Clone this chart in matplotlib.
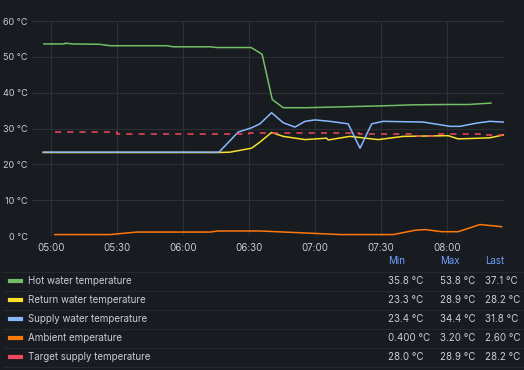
import matplotlib.pyplot as plt
from matplotlib.lines import Line2D

plt.rcParams['font.family'] = ['Inter', 'DejaVu Sans']

# minutes after 05:00
hot_t = [-3.2, 6, 6.5, 10, 22, 27, 52.6, 55.6, 72.3, 75.3, 91, 96, 100.6, 105.6,
         116, 136, 149.5, 164.5, 180, 190, 200]
hot_v = [53.6, 53.6, 53.8, 53.6, 53.5, 53.1, 53.1, 52.8, 52.8, 52.6, 52.6, 50.7, 38.1, 35.8,
         35.8, 36.1, 36.3, 36.6, 36.7, 36.7, 37.1]

ret_t = [-3.5, 36.7, 76.4, 81.4, 91.2, 95, 100.3, 105.6, 115.5, 125.3, 126, 135.9,
         148.8, 160.1, 180.6, 185.1, 195, 199.5, 205.6]
ret_v = [23.3, 23.3, 23.3, 23.4, 24.5, 26.2, 28.9, 27.8, 26.9, 27.3, 26.8, 27.8,
         26.9, 27.8, 28.0, 27.1, 27.3, 27.4, 28.2]

sup_t = [-3.5, 36.7, 76.4, 81.4, 85.1, 91.2, 95, 100.3, 105.6, 110.9, 115.5, 120,
         126.8, 135.1, 140.5, 145.8, 151, 169.2, 181.4, 185.9, 193.5, 199.5, 205.6]
sup_v = [23.4, 23.4, 23.4, 26.6, 29.0, 30.2, 31.3, 34.4, 31.6, 30.4, 32.0, 32.4,
         32.0, 31.3, 24.5, 31.3, 32.0, 31.8, 30.6, 30.6, 31.5, 32.0, 31.8]

amb_t = [1.8, 26.8, 39, 72.3, 75.9, 95, 119.1, 131.4, 155.6, 165.5, 170, 177.6,
         185.1, 195, 204.9]
amb_v = [0.4, 0.4, 1.1, 1.1, 1.4, 1.4, 0.75, 0.4, 0.4, 1.6, 1.8, 1.2,
         1.2, 3.2, 2.6]

tgt_t = [1.8, 30, 30, 90, 90, 140, 140, 165, 165, 175, 175, 195, 195, 205.6]
tgt_v = [28.9, 28.9, 28.5, 28.5, 28.7, 28.7, 28.5, 28.5, 28.0, 28.0, 28.4, 28.4, 28.2, 28.2]

tick_pos = [0, 30, 60, 90, 120, 150, 180]
tick_labels = ["05:00", "05:30", "06:00", "06:30", "07:00", "07:30", "08:00"]

names = ["Hot water temperature", "Return water temperature", "Supply water temperature",
         "Ambient emperature", "Target supply temperature"]
colors = ["#73bf69", "#fade2a", "#8ab8ff", "#ff780a", "#f2495c"]
mins = ["35.8 °C", "23.3 °C", "23.4 °C", "0.400 °C", "28.0 °C"]
maxs = ["53.8 °C", "28.9 °C", "34.4 °C", "3.20 °C", "28.9 °C"]
lasts = ["37.1 °C", "28.2 °C", "31.8 °C", "2.60 °C", "28.2 °C"]

bg = "#181b1f"
txt = "#ccccdc"
W, H = 524, 370

fig = plt.figure(figsize=(W / 100, H / 100), dpi=100, facecolor=bg)
ax = fig.add_axes([32 / W, 1 - 236 / H, 473 / W, 215 / H], facecolor=bg)

ax.plot(hot_t, hot_v, color=colors[0], lw=1.1)
ax.plot(ret_t, ret_v, color=colors[1], lw=1.1)
ax.plot(sup_t, sup_v, color=colors[2], lw=1.1)
ax.plot(amb_t, amb_v, color=colors[3], lw=1.1)
ax.plot(tgt_t, tgt_v, color=colors[4], lw=1.1, ls=(0, (4, 4)))

ax.set_xlim(-8.6, 206.4)
ax.set_ylim(0, 60)
ax.set_yticks([0, 10, 20, 30, 40, 50, 60])
ax.set_yticklabels([f"{v} °C" for v in range(0, 70, 10)])
ax.set_xticks(tick_pos)
ax.set_xticklabels(tick_labels)
ax.tick_params(colors=txt, labelsize=7, length=0)
ax.tick_params(axis="x", pad=5)
ax.tick_params(axis="y", pad=3, labelsize=6.5)
ax.grid(True, color="#2c2f34", lw=0.8)
ax.set_axisbelow(True)
for s in ax.spines.values():
    s.set_visible(False)

# legend table
def fy(y):
    return 1 - y / H

for lbl, x in zip(["Min", "Max", "Last"], [388, 440, 485]):
    fig.text(x / W, fy(261), lbl, color="#6e9fff", fontsize=7, va="center", ha="left")

rows_y = [281, 300, 319, 338, 357]
for i, y in enumerate(rows_y):
    fig.add_artist(Line2D([10 / W, 21 / W], [fy(y), fy(y)], color=colors[i], lw=3,
                          transform=fig.transFigure))
    fig.text(28 / W, fy(y), names[i], color=txt, fontsize=7, va="center")
    fig.text(388 / W, fy(y), mins[i], color=txt, fontsize=7, va="center")
    fig.text(440 / W, fy(y), maxs[i], color=txt, fontsize=7, va="center")
    fig.text(485 / W, fy(y), lasts[i], color=txt, fontsize=7, va="center")

for y in [271.7, 290.7, 309.7, 328.7, 347.7, 366.7]:
    fig.add_artist(Line2D([3 / W, 1], [fy(y), fy(y)], color="#25282d", lw=0.8,
                          transform=fig.transFigure))

fig.savefig("out.png", dpi=100, facecolor=bg)
